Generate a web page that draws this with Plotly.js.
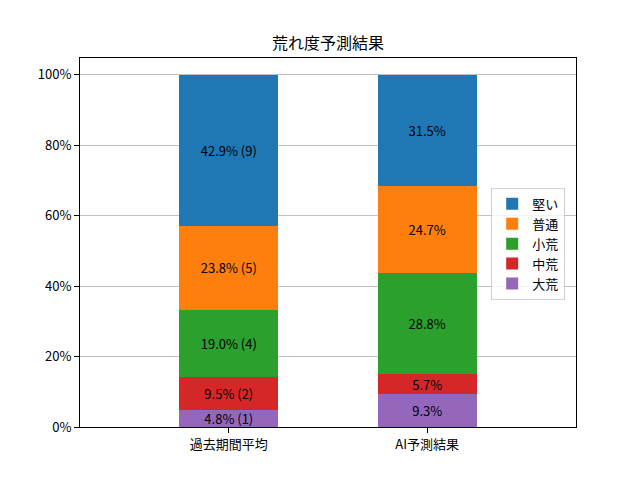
<!DOCTYPE html>
<html><head><meta charset="utf-8">
<script src="https://cdn.plot.ly/plotly-3.0.1.min.js"></script>
<style>html,body{margin:0;padding:0;background:#fff}#chart{width:640px;height:480px}</style>
</head><body><div id="chart"></div>
<script>
const categories = ["過去期間平均", "AI予測結果"];
const seriesNames = ["大荒", "中荒", "小荒", "普通", "堅い"];
const seriesColors = ["#9467bd", "#d62728", "#2ca02c", "#ff7f0e", "#1f77b4"];
const pastCounts = [1, 2, 4, 5, 9];
const pastValues = [4.8, 9.5, 19.0, 23.8, 42.9];
const aiValues = [9.3, 5.7, 28.8, 24.7, 31.5];
const yTickVals = [0, 20, 40, 60, 80, 100];
const yTickText = ["0%", "20%", "40%", "60%", "80%", "100%"];

const font = "Noto Sans CJK JP, DejaVu Sans, sans-serif";
const traces = seriesNames.map((name, i) => ({
  type: "bar",
  name: name,
  x: categories,
  y: [pastValues[i], aiValues[i]],
  text: [pastValues[i].toFixed(1) + "% (" + pastCounts[i] + ")", aiValues[i].toFixed(1) + "%"],
  textposition: "inside",
  insidetextanchor: "middle",
  textangle: 0,
  textfont: {color: "#000", size: 13, family: font},
  marker: {color: seriesColors[i], line: {width: 0}},
  width: 0.5,
  hoverinfo: "none"
}));

const layout = {
  width: 640, height: 480,
  margin: {l: 80, r: 64, t: 58, b: 53},
  barmode: "stack",
  uniformtext: {minsize: 13, mode: "show"},
  paper_bgcolor: "#fff", plot_bgcolor: "#fff",
  font: {family: font, size: 13, color: "#000"},
  title: {text: "荒れ度予測結果", font: {size: 16, family: font, color: "#000"}, x: 0.5125, xanchor: "center", y: 0.91, yanchor: "middle"},
  xaxis: {
    type: "category", range: [-0.75, 1.75],
    showline: true, mirror: true, linecolor: "#000", linewidth: 1,
    ticks: "outside", ticklen: 5, tickcolor: "#000",
    showgrid: false, zeroline: false,
    tickfont: {size: 13, family: font}
  },
  yaxis: {
    range: [0, 104.8],
    tickvals: yTickVals, ticktext: yTickText,
    showline: true, mirror: true, linecolor: "#000", linewidth: 1,
    ticks: "outside", ticklen: 5, tickcolor: "#000",
    showgrid: true, gridcolor: "#b0b0b0", gridwidth: 0.8,
    zeroline: false,
    tickfont: {size: 13, family: font}
  },
  legend: {
    x: 0.829, y: 0.648, xanchor: "left", yanchor: "top",
    traceorder: "reversed",
    bgcolor: "rgba(255,255,255,0.8)", bordercolor: "#d0d0d0", borderwidth: 1,
    font: {size: 13, family: font}
  },
  showlegend: true
};
Plotly.newPlot("chart", traces, layout, {displayModeBar: false, staticPlot: true});
</script></body></html>
